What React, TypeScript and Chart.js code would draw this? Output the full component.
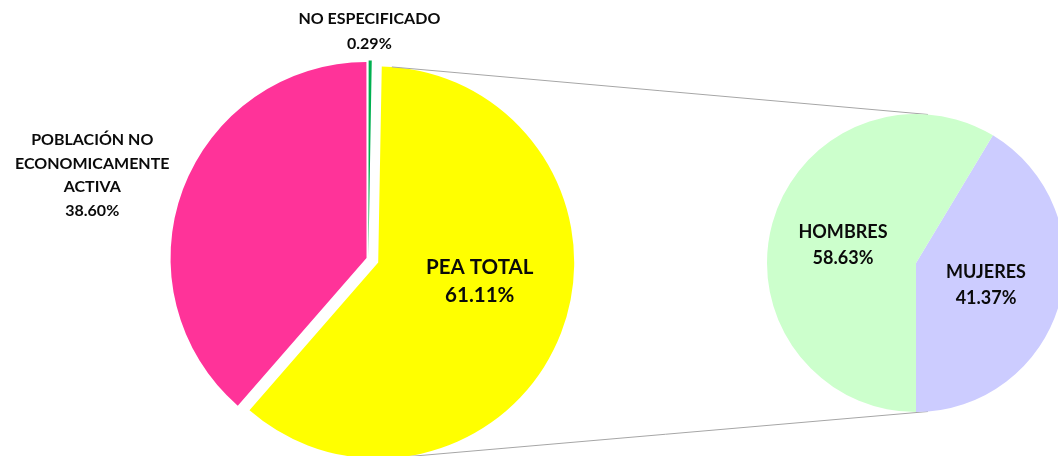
import React, { useEffect, useRef } from 'react';
import { Chart, registerables } from 'chart.js';

Chart.register(...registerables);

// ---- data ----
const mainLabels = ['NO ESPECIFICADO', 'PEA TOTAL', 'POBLACIÓN NO\nECONOMICAMENTE\nACTIVA'];
const mainValues = [0.29, 61.11, 38.6];
const mainColors = ['#00B050', '#FFFF00', '#FF3399'];

const subLabels = ['MUJERES', 'HOMBRES'];
const subValues = [41.37, 58.63];
const subColors = ['#CCCCFF', '#CCFFCC'];

// ---- layout / style constants ----
const W = 1058;
const H = 456;
const FONT = 'Lato, "Open Sans", sans-serif';
const MAIN_CX = 368.4;
const MAIN_CY = 258.7;
const MAIN_R = 195.3;
const EXPLODE_INDEX = 1; // PEA TOTAL slice is pulled out and detailed in the second pie
const EXPLODE_DIST = 10.5;
const OTHER_OFFSETS = [6, 0, 8];
const SUB_CX = 916;
const SUB_CY = 263;
const SUB_R = 149;

type LabelSpec = { dx: number; dy: number; size: number; gap: number };

const mainLabelSpecs: LabelSpec[] = [
  { dx: 0.005, dy: -1.163, size: 16, gap: 25 },
  { dx: 0.57, dy: 0.115, size: 20.5, gap: 28 },
  { dx: -1.414, dy: -0.426, size: 16, gap: 23.5 },
];
const subLabelSpecs: LabelSpec[] = [
  { dx: 0.47, dy: 0.148, size: 18, gap: 26 },
  { dx: -0.49, dy: -0.121, size: 18, gap: 25.5 },
];

const deg = Math.PI / 180;

function makeLabelPlugin(specs: LabelSpec[]) {
  return {
    id: 'sliceLabels',
    afterDatasetsDraw(chart: any) {
      const meta = chart.getDatasetMeta(0);
      const ctx = chart.ctx as CanvasRenderingContext2D;
      const labels = chart.data.labels as string[];
      const values = chart.data.datasets[0].data as number[];
      meta.data.forEach((arc: any, i: number) => {
        const s = specs[i];
        const r = arc.outerRadius;
        const lines = String(labels[i]).split('\n').concat([values[i].toFixed(2) + '%']);
        const x = arc.x + s.dx * r;
        const yMid = arc.y + s.dy * r;
        const y0 = yMid - ((lines.length - 1) * s.gap) / 2;
        ctx.save();
        ctx.font = `bold ${s.size}px ${FONT}`;
        ctx.fillStyle = '#0A0A0A';
        ctx.textAlign = 'center';
        ctx.textBaseline = 'middle';
        lines.forEach((ln, k) => ctx.fillText(ln, x, y0 + k * s.gap));
        ctx.restore();
      });
    },
  };
}

function explodeVector() {
  const total = mainValues.reduce((a, b) => a + b, 0);
  let before = 0;
  for (let i = 0; i < EXPLODE_INDEX; i++) before += mainValues[i];
  const midFrac = (before + mainValues[EXPLODE_INDEX] / 2) / total;
  const a = midFrac * 2 * Math.PI - Math.PI / 2;
  return { x: Math.cos(a) * EXPLODE_DIST, y: Math.sin(a) * EXPLODE_DIST };
}

function paddingFor(cx: number, cy: number) {
  const p = { left: 0, right: 0, top: 0, bottom: 0 };
  const dx = 2 * cx - W;
  if (dx >= 0) p.left = dx; else p.right = -dx;
  const dy = 2 * cy - H;
  if (dy >= 0) p.top = dy; else p.bottom = -dy;
  return p;
}

export default function App() {
  const yellowRef = useRef<HTMLCanvasElement>(null);
  const mainRef = useRef<HTMLCanvasElement>(null);
  const subRef = useRef<HTMLCanvasElement>(null);

  useEffect(() => {
    const ev = explodeVector();
    const common = {
      responsive: false,
      animation: false as const,
      events: [] as any[],
      plugins: { legend: { display: false }, tooltip: { enabled: false } },
    };

    // exploded slice (PEA TOTAL) drawn on its own, shifted out along its mid-angle
    const yellowChart = new Chart(yellowRef.current!, {
      type: 'pie',
      data: {
        labels: mainLabels,
        datasets: [
          {
            data: mainValues,
            backgroundColor: mainColors.map((c, i) => (i === EXPLODE_INDEX ? c : 'rgba(0,0,0,0)')),
            borderWidth: 0,
            hoverOffset: 0,
            clip: false,
          } as any,
        ],
      },
      options: {
        ...common,
        radius: MAIN_R + 0.7,
        layout: { padding: paddingFor(MAIN_CX + ev.x, MAIN_CY + ev.y) },
      } as any,
    });

    const mainChart = new Chart(mainRef.current!, {
      type: 'pie',
      data: {
        labels: mainLabels,
        datasets: [
          {
            data: mainValues,
            backgroundColor: mainColors.map((c, i) => (i === EXPLODE_INDEX ? 'rgba(0,0,0,0)' : c)),
            borderWidth: 0,
            offset: OTHER_OFFSETS,
            hoverOffset: 0,
            clip: false,
          } as any,
        ],
      },
      options: {
        ...common,
        radius: MAIN_R,
        layout: { padding: paddingFor(MAIN_CX, MAIN_CY) },
      } as any,
      plugins: [makeLabelPlugin(mainLabelSpecs)],
    });

    const connector = {
      id: 'connector',
      beforeDatasetsDraw(chart: any) {
        const src = yellowChart.getDatasetMeta(0).data[EXPLODE_INDEX] as any;
        const dst = chart.getDatasetMeta(0).data[0] as any;
        if (!src || !dst) return;
        const pt = (el: any, fromTopDeg: number) => {
          const a = fromTopDeg * deg - Math.PI / 2;
          return { x: el.x + Math.cos(a) * el.outerRadius, y: el.y + Math.sin(a) * el.outerRadius };
        };
        const ctx = chart.ctx as CanvasRenderingContext2D;
        ctx.save();
        ctx.strokeStyle = '#A6A6A6';
        ctx.lineWidth = 1;
        const pairs: [number, number][] = [
          [4, 4.6],
          [174, 175.4],
        ];
        pairs.forEach(([a1, a2]) => {
          const p1 = pt(src, a1);
          const p2 = pt(dst, a2);
          ctx.beginPath();
          ctx.moveTo(p1.x, p1.y);
          ctx.lineTo(p2.x, p2.y);
          ctx.stroke();
        });
        ctx.restore();
      },
    };

    const subTotal = subValues.reduce((a, b) => a + b, 0);
    const subChart = new Chart(subRef.current!, {
      type: 'pie',
      data: {
        labels: subLabels,
        datasets: [
          {
            data: subValues,
            backgroundColor: subColors,
            borderWidth: 0,
            hoverOffset: 0,
            clip: false,
          } as any,
        ],
      },
      options: {
        ...common,
        radius: SUB_R,
        rotation: 180 - (subValues[0] / subTotal) * 360,
        layout: { padding: paddingFor(SUB_CX, SUB_CY) },
      } as any,
      plugins: [connector, makeLabelPlugin(subLabelSpecs)],
    });

    return () => {
      subChart.destroy();
      mainChart.destroy();
      yellowChart.destroy();
    };
  }, []);

  const cv: React.CSSProperties = { position: 'absolute', left: 0, top: 0, width: W, height: H };
  return (
    <div style={{ position: 'fixed', left: 0, top: 0, width: W, height: H, background: '#ffffff', overflow: 'hidden' }}>
      <canvas ref={yellowRef} width={W} height={H} style={cv} />
      <canvas ref={mainRef} width={W} height={H} style={cv} />
      <canvas ref={subRef} width={W} height={H} style={cv} />
    </div>
  );
}
